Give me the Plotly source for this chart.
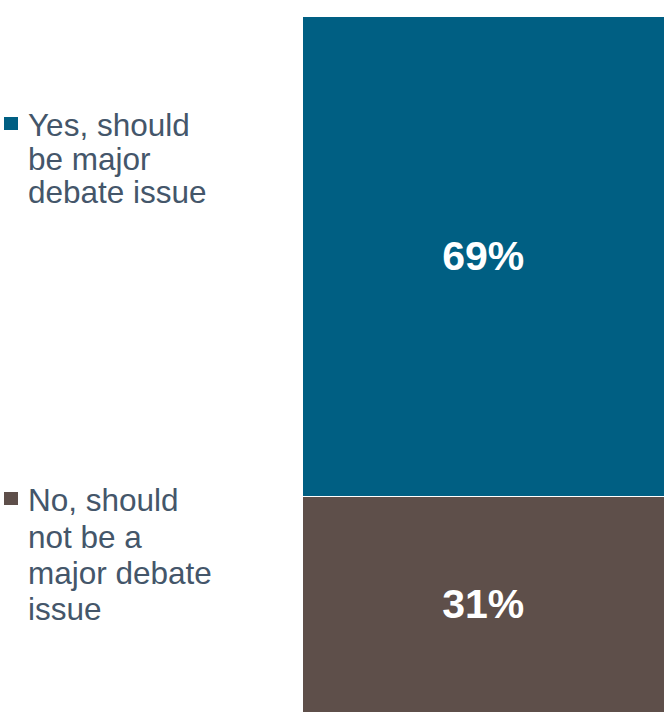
import plotly.graph_objects as go

# Survey answer split (percent of respondents)
categories = ["No, should not be a major debate issue", "Yes, should be major debate issue"]
values = [31, 69]
colors = ["#5E4F4A", "#005F83"]
# legend captions, broken into lines as displayed
legend_lines = [
    ["No, should", "not be a", "major debate", "issue"],
    ["Yes, should", "be major", "debate issue"],
]

W, H = 665, 715
ML, MR, MT, MB = 303, 0, 17, 2
plot_w = W - ML - MR
plot_h = H - MT - MB

FONT = "Liberation Sans, Arial, sans-serif"
TEXT_COLOR = "#44566A"


def px_x(x):
    return (x - ML) / plot_w


def px_y(y):
    return (H - MB - y) / plot_h


fig = go.Figure()
for name, val, col in zip(categories, values, colors):
    fig.add_trace(go.Bar(
        x=["All"], y=[val], name=name,
        marker=dict(color=col, line=dict(color="white", width=1.5)),
        width=1,
        texttemplate="<b>%{y}%</b>",
        textposition="inside",
        insidetextanchor="middle",
        textfont=dict(family=FONT, size=41, color="white"),
        showlegend=False,
    ))

# legend blocks: square swatch plus wrapped caption lines (pixel baselines)
swatch_top = [492, 117]
line_baselines = [[508, 545, 581, 617], [133, 167, 200]]
for col, lines, top, bases in zip(colors, legend_lines, swatch_top, line_baselines):
    fig.add_shape(type="rect", xref="paper", yref="paper",
                  x0=px_x(4), x1=px_x(18), y0=px_y(top + 13), y1=px_y(top),
                  fillcolor=col, line=dict(width=0))
    for txt, b in zip(lines, bases):
        fig.add_annotation(text=txt, xref="paper", yref="paper",
                           x=px_x(26), y=px_y(b + 12), xanchor="left", yanchor="bottom",
                           showarrow=False,
                           font=dict(family=FONT, size=31.5, color=TEXT_COLOR))

fig.update_layout(
    width=W, height=H,
    margin=dict(l=ML, r=MR, t=MT, b=MB),
    barmode="stack", bargap=0,
    plot_bgcolor="white", paper_bgcolor="white",
    xaxis=dict(visible=False, range=[-0.5, 0.5]),
    yaxis=dict(visible=False, range=[0, 100]),
    uniformtext=dict(mode=False),
)

fig.write_html("out.html")
